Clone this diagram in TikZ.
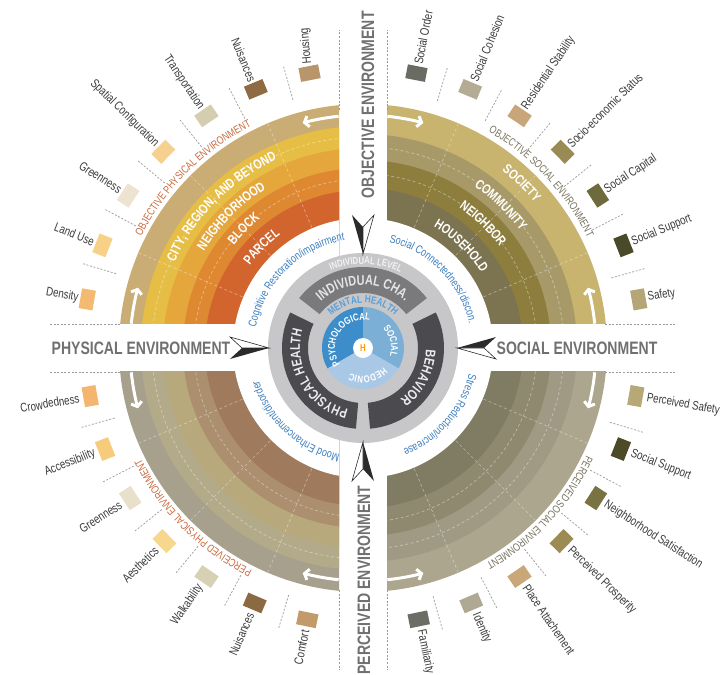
\documentclass[tikz,border=0pt]{standalone}
\usepackage{fontspec}
\setmainfont{Liberation Sans}[FakeStretch=0.78]
\usetikzlibrary{arrows.meta,decorations.text}

% ring colours of the four quadrants
\definecolor{tlA}{HTML}{C9AD74}
\definecolor{tlB}{HTML}{E7BE45}
\definecolor{tlC}{HTML}{E5A63B}
\definecolor{tlD}{HTML}{DE8832}
\definecolor{tlE}{HTML}{D1652D}
\definecolor{trA}{HTML}{C8B36F}
\definecolor{trB}{HTML}{A89A68}
\definecolor{trC}{HTML}{8D7E3D}
\definecolor{trD}{HTML}{7C7350}
\definecolor{blA}{HTML}{A6A08D}
\definecolor{blB}{HTML}{B3AA8A}
\definecolor{blC}{HTML}{B8A97C}
\definecolor{blD}{HTML}{AC8F6F}
\definecolor{blE}{HTML}{A07A5D}
\definecolor{brA}{HTML}{ADA68E}
\definecolor{brB}{HTML}{A09A84}
\definecolor{brC}{HTML}{8E896F}
\definecolor{brD}{HTML}{807B63}
% texts and centre
\definecolor{bandtext}{HTML}{707070}
\definecolor{labeltext}{HTML}{3A3A3A}
\definecolor{physred}{HTML}{C8693F}
\definecolor{socgray}{HTML}{77725E}
\definecolor{linkblue}{HTML}{3C7EBF}
\definecolor{levelgray}{HTML}{C7C7C9}
\definecolor{chagray}{HTML}{7A7A7C}
\definecolor{darkseg}{HTML}{4B4B4F}
\definecolor{psyblue}{HTML}{3D8DCA}
\definecolor{socblue}{HTML}{7BAFD6}
\definecolor{hedblue}{HTML}{A8C8E6}
\definecolor{mentalblue}{HTML}{5A9FD6}
\definecolor{needle}{HTML}{2B2B2B}

\tikzset{
  swatch/.style={minimum width=14pt, minimum height=20pt, inner sep=0pt},
  factor/.style={font=\fontsize{12.5}{12.5}\selectfont, text=labeltext, inner sep=0pt},
  divider/.style={draw=gray!80, line width=.7pt, dash pattern=on 2pt off 1.6pt},
  ringgrid/.style={draw=white, opacity=.4, line width=.7pt, dash pattern=on 3pt off 2.5pt},
  bandarrow/.style={draw=white, line width=3pt, -{Straight Barb[length=4pt,width=11pt]}},
  bandlabel/.style={font=\fontsize{18}{18}\selectfont\bfseries, text=bandtext, inner sep=0pt}
}

% text set along a clockwise arc: radius, centre angle, colour, font, text
\newcommand{\arcword}[5]{%
  \path[decorate, decoration={text along path, text align=center, text color=#3,
      text={|#4|#5}}] ({#2+85}:#1) arc[start angle={#2+85}, end angle={#2-85}, radius=#1];}

\begin{document}
\begin{tikzpicture}[x=1pt,y=1pt]
\useasboundingbox (-363,-326) rectangle (359,348);

% quadrant rings
\begin{scope}
  \clip (-24,24) rectangle (-260,260);
  \foreach \r/\c in {244/tlA,222/tlB,200/tlC,180/tlD,158/tlE,130/white}
    \fill[\c] (0,0) circle[radius=\r];
  \foreach \a in {113,135,157} \draw[ringgrid] (\a:131) -- (\a:243);
  \foreach \r in {169,211} \draw[ringgrid] (0,0) circle[radius=\r];
\end{scope}
\begin{scope}
  \clip (24,24) rectangle (260,260);
  \foreach \r/\c in {244/trA,214/trB,188/trC,160/trD,130/white}
    \fill[\c] (0,0) circle[radius=\r];
  \foreach \a in {23,45,67} \draw[ringgrid] (\a:131) -- (\a:243);
  \foreach \r in {174,201} \draw[ringgrid] (0,0) circle[radius=\r];
\end{scope}
\begin{scope}
  \clip (24,-24) rectangle (260,-260);
  \foreach \r/\c in {244/brA,214/brB,188/brC,160/brD,130/white}
    \fill[\c] (0,0) circle[radius=\r];
  \foreach \a in {-23,-45,-67} \draw[ringgrid] (\a:131) -- (\a:243);
  \foreach \r in {174,201} \draw[ringgrid] (0,0) circle[radius=\r];
\end{scope}
\begin{scope}
  \clip (-24,-24) rectangle (-260,-260);
  \foreach \r/\c in {244/blA,222/blB,200/blC,180/blD,158/blE,130/white}
    \fill[\c] (0,0) circle[radius=\r];
  \foreach \a in {203,225,247} \draw[ringgrid] (\a:131) -- (\a:243);
  \foreach \r in {169,211} \draw[ringgrid] (0,0) circle[radius=\r];
\end{scope}

% arrows in the outer bands
\foreach \q in {0,90,180,270}{
  \draw[bandarrow] ({\q+6}:233) arc[start angle={\q+6}, end angle={\q+15}, radius=233];
  \draw[bandarrow] ({\q+84}:233) arc[start angle={\q+84}, end angle={\q+75}, radius=233];
}

% scale labels in the rings
\arcword{207}{135}{white}{\fontsize{13.5}{13.5}\selectfont\bfseries}{CITY, REGION, AND BEYOND}
\arcword{186}{135}{white}{\fontsize{13.5}{13.5}\selectfont\bfseries}{NEIGHBORHOOD}
\arcword{165}{135}{white}{\fontsize{13.5}{13.5}\selectfont\bfseries}{BLOCK}
\arcword{140}{135}{white}{\fontsize{13.5}{13.5}\selectfont\bfseries}{PARCEL}
\arcword{225}{46}{white}{\fontsize{13.5}{13.5}\selectfont\bfseries}{SOCIETY}
\arcword{196}{46}{white}{\fontsize{13.5}{13.5}\selectfont\bfseries}{COMMUNITY}
\arcword{170}{46}{white}{\fontsize{13.5}{13.5}\selectfont\bfseries}{NEIGHBOR}
\arcword{140}{46}{white}{\fontsize{13.5}{13.5}\selectfont\bfseries}{HOUSEHOLD}

% quadrant titles
\arcword{248}{135}{physred}{\fontsize{11}{11}\selectfont}{OBJECTIVE PHYSICAL ENVIRONMENT}
\arcword{250}{43}{socgray}{\fontsize{11}{11}\selectfont}{OBJECTIVE SOCIAL ENVIRONMENT}
\arcword{248}{-43}{socgray}{\fontsize{11}{11}\selectfont}{PERCEIVED SOCIAL ENVIRONMENT}
\arcword{248}{225}{physred}{\fontsize{11}{11}\selectfont}{PERCEIVED PHYSICAL ENVIRONMENT}

% pathways
\arcword{109}{134.5}{linkblue}{\fontsize{11.5}{11.5}\selectfont}{Cognitive Restoration/impairment}
\arcword{109}{44.5}{linkblue}{\fontsize{11.5}{11.5}\selectfont}{Social Connectedness/discon.}
\arcword{109}{-41}{linkblue}{\fontsize{11.5}{11.5}\selectfont}{Stress Reduction/increase}
\arcword{109}{227.5}{linkblue}{\fontsize{11.5}{11.5}\selectfont}{Mood Enhancement/disorder}

% individual level
\fill[levelgray] (0,0) circle[radius=95];
\fill[chagray] (38:81) arc[start angle=38, end angle=142, radius=81]
  -- (142:55) arc[start angle=142, end angle=38, radius=55] -- cycle;
\fill[darkseg] (154:81) arc[start angle=154, end angle=265, radius=81]
  -- (265:55) arc[start angle=265, end angle=154, radius=55] -- cycle;
\fill[darkseg] (-85:81) arc[start angle=-85, end angle=26, radius=81]
  -- (26:55) arc[start angle=26, end angle=-85, radius=55] -- cycle;
\arcword{84}{88}{white!90!gray}{\fontsize{10}{10}\selectfont\bfseries}{INDIVIDUAL LEVEL}
\arcword{63}{90}{white!80!gray}{\fontsize{14}{14}\selectfont\bfseries}{INDIVIDUAL CHA.}
\arcword{63}{210}{white!85!gray}{\fontsize{14}{14}\selectfont\bfseries}{PHYSICAL HEALTH}
\arcword{63}{-28}{white!85!gray}{\fontsize{14}{14}\selectfont\bfseries}{BEHAVIOR}
\arcword{45}{90}{mentalblue}{\fontsize{10.5}{10.5}\selectfont\bfseries}{MENTAL HEALTH}

% mental health core
\fill[psyblue] (0,0) -- (90:41) arc[start angle=90, end angle=210, radius=41] -- cycle;
\fill[socblue] (0,0) -- (-30:41) arc[start angle=-30, end angle=90, radius=41] -- cycle;
\fill[hedblue] (0,0) -- (210:41) arc[start angle=210, end angle=330, radius=41] -- cycle;
\arcword{28}{146}{white}{\fontsize{10}{10}\selectfont\bfseries}{PSYCHOLOGICAL}
\arcword{28}{14}{white}{\fontsize{10}{10}\selectfont\bfseries}{SOCIAL}
\arcword{28}{-80}{white}{\fontsize{10}{10}\selectfont\bfseries}{HEDONIC}
\node[circle, fill=white, minimum size=20pt, inner sep=0pt, text=orange!80!yellow,
  font=\fontsize{10}{10}\selectfont\bfseries] (health) at (0,0) {H};

% compass needles
\foreach \a in {0,90,180,270}{
  \begin{scope}[rotate=\a]
    \fill[needle] (94,0) -- (133,11) -- (121,0) -- cycle;
    \draw[needle, fill=white, line width=.6pt, line join=miter] (94,0) -- (133,-11) -- (121,0) -- cycle;
  \end{scope}
}

% environment bands
\node[bandlabel, rotate=90] (objenv) at (5,243) {OBJECTIVE ENVIRONMENT};
\node[bandlabel, rotate=90] (perenv) at (1,-232) {PERCEIVED ENVIRONMENT};
\node[bandlabel] (physenv) at (-222,0) {PHYSICAL ENVIRONMENT};
\node[bandlabel] (socenv) at (214,0) {SOCIAL ENVIRONMENT};
\foreach \s in {-24,24}{
  \draw[divider] (\s,238) -- (\s,318);
  \draw[divider] (\s,-242) -- (\s,-322);
  \draw[divider] (-313,\s) -- (-243,\s);
  \draw[divider] (242,\s) -- (314,\s);
}
\foreach \q in {0,90,180,270}
  \foreach \d in {15.75,27.25,38.75,50.25,61.75,73.25}
    \draw[divider] ({\q+\d}:258) -- ({\q+\d}:293);

% objective physical factors
\foreach \nm/\swhex [count=\k from 0] in {Density/F4BA72, Land Use/F7D185, Greenness/EEE3D0,
    Spatial Configuration/F6D08E, Transportation/D5CDB0, Nuisances/8E6B43}{
  \pgfmathsetmacro\ang{170-11.5*\k}
  \edef\tmp{\noexpand\definecolor{swatchfill}{HTML}{\swhex}}\tmp
  \node[swatch, fill=swatchfill, rotate=\ang] (op\k) at (\ang:280) {};
  \node[factor, anchor=east, rotate=\ang-180] (opl\k) at (\ang:289) {\nm};
}
\definecolor{swatchfill}{HTML}{B8956A}
\node[swatch, fill=swatchfill, rotate=101] (op6) at (101:280) {};
\node[factor, anchor=west, rotate=95] (opl6) at (101:289) {Housing};

% objective social factors
\foreach \nm/\swhex [count=\k from 0] in {Safety/B4A676, Social Support/4A4929, Social Capital/6F6A3D,
    Socio-economic Status/9A8B55, Residential Stability/C8A679, Social Cohesion/B3AB93, Social Order/6A6B62}{
  \pgfmathsetmacro\ang{10+11.5*\k}
  \edef\tmp{\noexpand\definecolor{swatchfill}{HTML}{\swhex}}\tmp
  \node[swatch, fill=swatchfill, rotate=\ang] (os\k) at (\ang:280) {};
  \node[factor, anchor=west, rotate=\ang] (osl\k) at (\ang:289) {\nm};
}

% perceived social factors
\foreach \nm/\swhex [count=\k from 0] in {Perceived Safety/B7A877, Social Support/4C4A28,
    Neighborhood Satisfaction/797343, Perceived Prosperity/9C8B52, Place Attachement/CAA779,
    Identity/AFA993, Familiarity/6C6D65}{
  \pgfmathsetmacro\ang{-10-11.4*\k}
  \edef\tmp{\noexpand\definecolor{swatchfill}{HTML}{\swhex}}\tmp
  \node[swatch, fill=swatchfill, rotate=\ang] (ps\k) at (\ang:277) {};
  \node[factor, anchor=west, rotate=\ang] (psl\k) at (\ang:288) {\nm};
}

% perceived physical factors
\foreach \nm/\swhex [count=\k from 0] in {Crowdedness/F4B56E, Accessibility/F6CB7B, Greenness/E8E0CB,
    Aesthetics/F7D68E, Walkability/D7D1B3, Nuisances/8B6941, Comfort/C39A69}{
  \pgfmathsetmacro\ang{190+11.4*\k}
  \edef\tmp{\noexpand\definecolor{swatchfill}{HTML}{\swhex}}\tmp
  \node[swatch, fill=swatchfill, rotate=\ang] (pp\k) at (\ang:277) {};
  \node[factor, anchor=east, rotate=\ang-180] (ppl\k) at (\ang:288) {\nm};
}
\end{tikzpicture}
\end{document}
